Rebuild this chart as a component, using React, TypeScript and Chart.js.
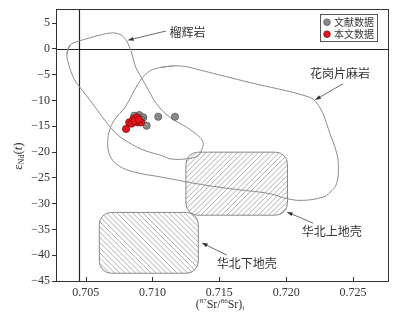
import React, { useEffect, useRef } from 'react';
import { Chart, registerables } from 'chart.js';

Chart.register(...registerables);

// ---- axes ----
const X_MIN = 0.70278;
const X_MAX = 0.72762;
const Y_MIN = -45;
const Y_MAX = 7.7;
const xTicks = [0.705, 0.71, 0.715, 0.72, 0.725];
const yTicks = [-45, -40, -35, -30, -25, -20, -15, -10, -5, 0, 5];

// reference lines
const refSr = 0.7045;
const refNd = 0;

// ---- data points ----
const litLabel = '文献数据';
const litSr = [0.70864, 0.70901, 0.70931, 0.70919, 0.70956, 0.71043, 0.71168, 0.70884];
const litNd = [-12.95, -12.82, -13.28, -13.73, -14.88, -13.15, -13.15, -13.34];

const thisLabel = '本文数据';
const thisSr = [0.70802, 0.70826, 0.70856, 0.70882, 0.70843, 0.70889, 0.70914, 0.70865, 0.70899];
const thisNd = [-15.52, -14.25, -13.59, -13.28, -14.5, -14.25, -14.25, -14.02, -13.73];

// ---- fields ----
const eclogiteSr = [0.7036, 0.70383, 0.70442, 0.70525, 0.70607, 0.70682, 0.70734, 0.70775, 0.70807, 0.70828,
  0.70846, 0.70876, 0.70931, 0.70981, 0.71031, 0.71131, 0.71256, 0.71355, 0.71378, 0.71375, 0.7134, 0.71256,
  0.71131, 0.71069, 0.70944, 0.70819, 0.70719, 0.70627, 0.70552, 0.70478, 0.70415, 0.70373];
const eclogiteNd = [-0.98, 0.75, 1.43, 2.1, 2.68, 3.07, 3.01, 2.49, 1.53, 0.37,
  -0.98, -3.63, -6.2, -8.51, -10.7, -13.28, -15.21, -17.14, -18.17, -19.07, -20.68, -21.31,
  -21.31, -20.68, -19.71, -18.11, -16.18, -13.28, -10.64, -8.13, -5.87, -2.97];

const gneissSr = [0.71056, 0.71153, 0.71243, 0.71331, 0.7158, 0.71779, 0.72004, 0.72141, 0.72201, 0.72238,
  0.72276, 0.72328, 0.72373, 0.7239, 0.72378, 0.72328, 0.72276, 0.72128, 0.72004, 0.71879, 0.7158, 0.71331,
  0.71069, 0.70869, 0.70744, 0.70682, 0.70665, 0.70682, 0.70727, 0.70787, 0.70831, 0.70876, 0.70926, 0.70981];
const gneissNd = [-3.63, -3.3, -3.4, -3.94, -5.56, -6.83, -8.13, -9.09, -9.73, -10.83,
  -12.57, -16.43, -19.71, -22.28, -26.08, -27.82, -28.73, -29.36, -29.03, -28.07, -27.1, -26.14,
  -24.86, -23.9, -22.61, -20.68, -18.11, -15.52, -13.34, -11.6, -9.67, -7.49, -5.56, -4.27];

// boxes: [srMin, srMax, ndMin, ndMax]
const upperCrust = [0.7125, 0.7201, -32.24, -20.02];
const lowerCrust = [0.70602, 0.71343, -43.5, -31.7];

// labels with arrows: [labelSr, labelNd, tailSr, tailNd, headSr, headNd]
const fieldLabels = ['榴辉岩', '花岗片麻岩', '华北上地壳', '华北下地壳'];
const labelSr = [0.71127, 0.72178, 0.72116, 0.7148];
const labelNd = [3.15, -4.73, -35.46, -41.56];
const tailSr = [0.71101, 0.72425, 0.72201, 0.71555];
const tailNd = [3.47, -6.76, -33.78, -39.96];
const headSr = [0.70814, 0.72215, 0.72004, 0.71368];
const headNd = [1.68, -9.9, -31.6, -37.59];

const toPts = (xs: number[], ys: number[]) => xs.map((x, i) => ({ x, y: ys[i] }));
const closed = (xs: number[], ys: number[]) => {
  const p = toPts(xs, ys);
  return [...p, p[0], p[1]];
};

const SERIF = '"Liberation Serif", "DejaVu Serif", serif';
const CJK = '"Noto Sans CJK SC", sans-serif';

function rrPath(ctx: CanvasRenderingContext2D, x0: number, y0: number, x1: number, y1: number, r: number) {
  ctx.beginPath();
  ctx.moveTo(x0 + r, y0);
  ctx.lineTo(x1 - r, y0);
  ctx.arcTo(x1, y0, x1, y0 + r, r);
  ctx.lineTo(x1, y1 - r);
  ctx.arcTo(x1, y1, x1 - r, y1, r);
  ctx.lineTo(x0 + r, y1);
  ctx.arcTo(x0, y1, x0, y1 - r, r);
  ctx.lineTo(x0, y0 + r);
  ctx.arcTo(x0, y0, x0 + r, y0, r);
  ctx.closePath();
}

function hatchBox(ctx: CanvasRenderingContext2D, chart: any, box: number[], dir: number) {
  const xs = chart.scales.x, ys = chart.scales.y;
  const x0 = xs.getPixelForValue(box[0]);
  const x1 = xs.getPixelForValue(box[1]);
  const y0 = ys.getPixelForValue(box[3]);
  const y1 = ys.getPixelForValue(box[2]);
  const w = x1 - x0, h = y1 - y0;
  ctx.save();
  rrPath(ctx, x0, y0, x1, y1, 12);
  ctx.clip();
  ctx.beginPath();
  for (let s = -h; s < w + h; s += 5.2) {
    if (dir > 0) {
      ctx.moveTo(x0 + s, y1);
      ctx.lineTo(x0 + s + h, y0);
    } else {
      ctx.moveTo(x0 + s, y0);
      ctx.lineTo(x0 + s + h, y1);
    }
  }
  ctx.strokeStyle = '#9a9a9a';
  ctx.lineWidth = 0.8;
  ctx.stroke();
  ctx.restore();
  ctx.save();
  rrPath(ctx, x0, y0, x1, y1, 12);
  ctx.strokeStyle = '#888';
  ctx.lineWidth = 1;
  ctx.stroke();
  ctx.restore();
}

function drawRuns(ctx: CanvasRenderingContext2D, x: number, y: number, runs: { t: string; f: string; dy: number }[], center = true) {
  let total = 0;
  for (const r of runs) {
    ctx.font = r.f;
    total += ctx.measureText(r.t).width;
  }
  let cx = center ? x - total / 2 : x;
  for (const r of runs) {
    ctx.font = r.f;
    ctx.fillText(r.t, cx, y + r.dy);
    cx += ctx.measureText(r.t).width;
  }
}

const decorPlugin = {
  id: 'decor',
  beforeDatasetsDraw(chart: any) {
    const ctx = chart.ctx as CanvasRenderingContext2D;
    const { left, right, top, bottom } = chart.chartArea;
    const xs = chart.scales.x, ys = chart.scales.y;
    hatchBox(ctx, chart, upperCrust, 1);
    hatchBox(ctx, chart, lowerCrust, -1);
    ctx.save();
    ctx.strokeStyle = '#222';
    ctx.lineWidth = 1.2;
    const vx = Math.round(xs.getPixelForValue(refSr)) + 0.5;
    const hy = Math.round(ys.getPixelForValue(refNd)) + 0.5;
    ctx.beginPath();
    ctx.moveTo(vx, top);
    ctx.lineTo(vx, bottom);
    ctx.moveTo(left, hy);
    ctx.lineTo(right, hy);
    ctx.stroke();
    ctx.restore();
  },
  afterDraw(chart: any) {
    const ctx = chart.ctx as CanvasRenderingContext2D;
    const { left, right, top, bottom } = chart.chartArea;
    const xs = chart.scales.x, ys = chart.scales.y;
    ctx.save();
    // frame
    ctx.strokeStyle = '#333';
    ctx.lineWidth = 1;
    ctx.strokeRect(Math.round(left) + 0.5, Math.round(top) + 0.5, Math.round(right - left), Math.round(bottom - top));
    // x ticks inward
    ctx.beginPath();
    for (const v of xTicks) {
      const px = Math.round(xs.getPixelForValue(v)) + 0.5;
      ctx.moveTo(px, bottom);
      ctx.lineTo(px, bottom - 4);
    }
    ctx.stroke();

    // arrows + labels
    ctx.fillStyle = '#333';
    ctx.strokeStyle = '#444';
    ctx.lineWidth = 0.8;
    for (let i = 0; i < fieldLabels.length; i++) {
      const tx = xs.getPixelForValue(tailSr[i]), ty = ys.getPixelForValue(tailNd[i]);
      const hx = xs.getPixelForValue(headSr[i]), hy = ys.getPixelForValue(headNd[i]);
      const ang = Math.atan2(hy - ty, hx - tx);
      const L = 6, W = 2;
      const bx = hx - L * Math.cos(ang), by = hy - L * Math.sin(ang);
      ctx.beginPath();
      ctx.moveTo(tx, ty);
      ctx.lineTo(bx, by);
      ctx.stroke();
      ctx.beginPath();
      ctx.moveTo(hx, hy);
      ctx.lineTo(bx + W * Math.sin(ang), by - W * Math.cos(ang));
      ctx.lineTo(bx - W * Math.sin(ang), by + W * Math.cos(ang));
      ctx.closePath();
      ctx.fill();
      ctx.font = '12px ' + CJK;
      ctx.textAlign = 'left';
      ctx.textBaseline = 'middle';
      ctx.fillStyle = '#333';
      ctx.fillText(fieldLabels[i], xs.getPixelForValue(labelSr[i]), ys.getPixelForValue(labelNd[i]));
    }

    // legend
    const lx0 = right - 68, ly0 = top + 5, lw = 57, lh = 27;
    ctx.fillStyle = '#fff';
    ctx.fillRect(lx0, ly0, lw, lh);
    ctx.strokeStyle = '#555';
    ctx.lineWidth = 1;
    ctx.strokeRect(Math.round(lx0) + 0.5, Math.round(ly0) + 0.5, lw, lh);
    const items = [
      { label: litLabel, fill: '#8a8a8a', stroke: '#555' },
      { label: thisLabel, fill: '#e8141c', stroke: '#7a1010' },
    ];
    items.forEach((it, k) => {
      const cy = ly0 + 8 + k * 12;
      ctx.beginPath();
      ctx.arc(lx0 + 7, cy, 3.3, 0, Math.PI * 2);
      ctx.fillStyle = it.fill;
      ctx.fill();
      ctx.strokeStyle = it.stroke;
      ctx.lineWidth = 0.8;
      ctx.stroke();
      ctx.fillStyle = '#333';
      ctx.font = '10px ' + CJK;
      ctx.textAlign = 'left';
      ctx.textBaseline = 'middle';
      ctx.fillText(it.label, lx0 + 14, cy);
    });

    // x title
    ctx.fillStyle = '#333';
    ctx.textAlign = 'left';
    ctx.textBaseline = 'alphabetic';
    drawRuns(ctx, (left + right) / 2 - 2, 308, [
      { t: '(', f: '12px ' + SERIF, dy: 0 },
      { t: '87', f: '7px ' + SERIF, dy: -5 },
      { t: 'Sr/', f: '12px ' + SERIF, dy: 0 },
      { t: '86', f: '7px ' + SERIF, dy: -5 },
      { t: 'Sr)', f: '12px ' + SERIF, dy: 0 },
      { t: 'i', f: '7px ' + SERIF, dy: 2 },
    ]);

    // y title
    ctx.save();
    ctx.translate(22, (top + bottom) / 2 + 11);
    ctx.rotate(-Math.PI / 2);
    drawRuns(ctx, 0, 0, [
      { t: 'ε', f: '13px ' + SERIF, dy: 0 },
      { t: 'Nd', f: '8px ' + SERIF, dy: 2 },
      { t: '(', f: '13px ' + SERIF, dy: 0 },
      { t: 't', f: 'italic 13px ' + SERIF, dy: 0 },
      { t: ')', f: '13px ' + SERIF, dy: 0 },
    ]);
    ctx.restore();
    ctx.restore();
  },
};

export default function App() {
  const ref = useRef<HTMLCanvasElement | null>(null);
  useEffect(() => {
    if (!ref.current) return;
    const outline = (data: any[]) => ({
      type: 'scatter' as const,
      data,
      showLine: true,
      tension: 0.4,
      borderColor: '#8a8a8a',
      borderWidth: 1,
      pointRadius: 0,
      fill: false,
    });
    const chart = new Chart(ref.current, {
      type: 'scatter',
      data: {
        datasets: [
          {
            label: thisLabel,
            data: toPts(thisSr, thisNd),
            backgroundColor: '#e8141c',
            borderColor: '#7a1010',
            borderWidth: 0.8,
            pointRadius: 3.6,
          },
          {
            label: litLabel,
            data: toPts(litSr, litNd),
            backgroundColor: '#8a8a8a',
            borderColor: '#555',
            borderWidth: 0.8,
            pointRadius: 3.6,
          },
          outline(closed(eclogiteSr, eclogiteNd)) as any,
          outline(closed(gneissSr, gneissNd)) as any,
        ],
      },
      options: {
        animation: false,
        responsive: false,
        layout: { padding: { left: 0, top: 8, right: 11, bottom: 0 } },
        plugins: { legend: { display: false }, tooltip: { enabled: false } },
        scales: {
          x: {
            type: 'linear',
            min: X_MIN,
            max: X_MAX,
            afterBuildTicks: (s: any) => { s.ticks = xTicks.map((v) => ({ value: v })); },
            afterFit: (s: any) => { s.height = 41; },
            grid: { display: true, drawOnChartArea: false, drawTicks: false },
            border: { display: false },
            ticks: {
              padding: 5,
              color: '#333',
              font: { family: SERIF, size: 12 },
              maxRotation: 0,
              callback: (v: any) => Number(v).toFixed(3),
            },
          },
          y: {
            type: 'linear',
            min: Y_MIN,
            max: Y_MAX,
            afterBuildTicks: (s: any) => { s.ticks = yTicks.map((v) => ({ value: v })); },
            afterFit: (s: any) => { s.width = 56; },
            grid: { display: true, drawOnChartArea: false, drawTicks: true, tickLength: 4, color: '#333' },
            border: { display: false },
            ticks: {
              padding: 2,
              color: '#333',
              font: { family: SERIF, size: 12 },
              callback: (v: any) => (Number(v) < 0 ? '\u2212' + Math.abs(Number(v)) : String(v)),
            },
          },
        },
      },
      plugins: [decorPlugin],
    });
    return () => chart.destroy();
  }, []);
  return (
    <div style={{ position: 'fixed', left: 0, top: 0, width: 399, height: 322, background: '#fff' }}>
      <canvas ref={ref} width={399} height={322} style={{ display: 'block' }} />
    </div>
  );
}
